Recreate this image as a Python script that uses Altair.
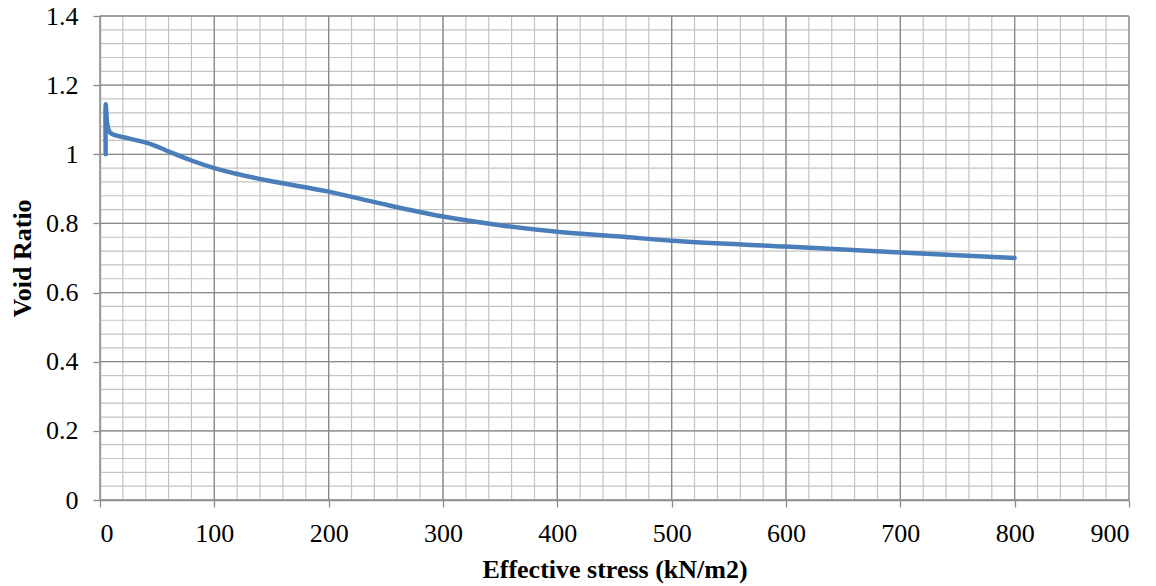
import altair as alt
import pandas as pd

# Curve data
stress = [5, 5, 6.5, 9, 25, 45, 60, 80, 100, 120, 150, 200, 245, 300, 350, 400, 455, 500, 600, 700, 800]
void_ratio = [1.0, 1.145, 1.085, 1.062, 1.046, 1.029, 1.008, 0.982, 0.960, 0.943, 0.922, 0.892, 0.858,
              0.82, 0.795, 0.776, 0.762, 0.75, 0.733, 0.716, 0.70]

# Tick values
x_major = [0, 100, 200, 300, 400, 500, 600, 700, 800, 900]
y_major = [0, 0.2, 0.4, 0.6, 0.8, 1, 1.2, 1.4]
x_minor = list(range(0, 901, 20))
y_minor = [round(i * 0.04, 2) for i in range(0, 36)]

df = pd.DataFrame({"stress": stress, "void": void_ratio, "order": list(range(len(stress)))})
xmin_df = pd.DataFrame({"v": x_minor})
ymin_df = pd.DataFrame({"v": y_minor})
xmaj_df = pd.DataFrame({"v": x_major})
ymaj_df = pd.DataFrame({"v": y_major})

FONT = "Liberation Serif"
xscale = alt.Scale(domain=[0, 900], nice=False, zero=False)
yscale = alt.Scale(domain=[0, 1.4], nice=False, zero=False)

minor_x = alt.Chart(xmin_df).mark_rule(color="#c3c3c3", strokeWidth=1.2).encode(
    x=alt.X("v:Q", scale=xscale))
minor_y = alt.Chart(ymin_df).mark_rule(color="#c3c3c3", strokeWidth=1.2).encode(
    y=alt.Y("v:Q", scale=yscale))
major_x = alt.Chart(xmaj_df).mark_rule(color="#8a8a8a", strokeWidth=1.3).encode(
    x=alt.X("v:Q", scale=xscale))
major_y = alt.Chart(ymaj_df).mark_rule(color="#8a8a8a", strokeWidth=1.3).encode(
    y=alt.Y("v:Q", scale=yscale))

line = alt.Chart(df).mark_line(
    color="#4a7ebb", strokeWidth=4.5, strokeCap="round", strokeJoin="round",
    interpolate="catmull-rom"
).encode(
    x=alt.X("stress:Q", scale=xscale,
            axis=alt.Axis(title="Effective stress (kN/m2)", values=x_major, format="d",
                          titleY=77, labelPadding=13)),
    y=alt.Y("void:Q", scale=yscale,
            axis=alt.Axis(title="Void Ratio", values=y_major, format="~g",
                          titleX=-70, labelPadding=15)),
    order="order:Q",
)

chart = alt.layer(minor_x, minor_y, major_x, major_y, line).properties(
    width=1029, height=484,
    autosize=alt.AutoSizeParams(type="none"),
    padding={"left": 100, "top": 16, "right": 27, "bottom": 86},
).configure(background="white").configure_view(stroke=None).configure_axis(
    grid=False,
    domainColor="#8a8a8a", domainWidth=1.3,
    tickColor="#8a8a8a", tickWidth=1.3, tickSize=7,
    labelFont=FONT, labelFontSize=26, labelColor="#000000",
    titleFont=FONT, titleFontSize=26, titleFontWeight="bold", titleColor="#000000",
    titleBaseline="alphabetic",
)

chart.save("out.html", embed_options={"renderer": "svg", "actions": False})
